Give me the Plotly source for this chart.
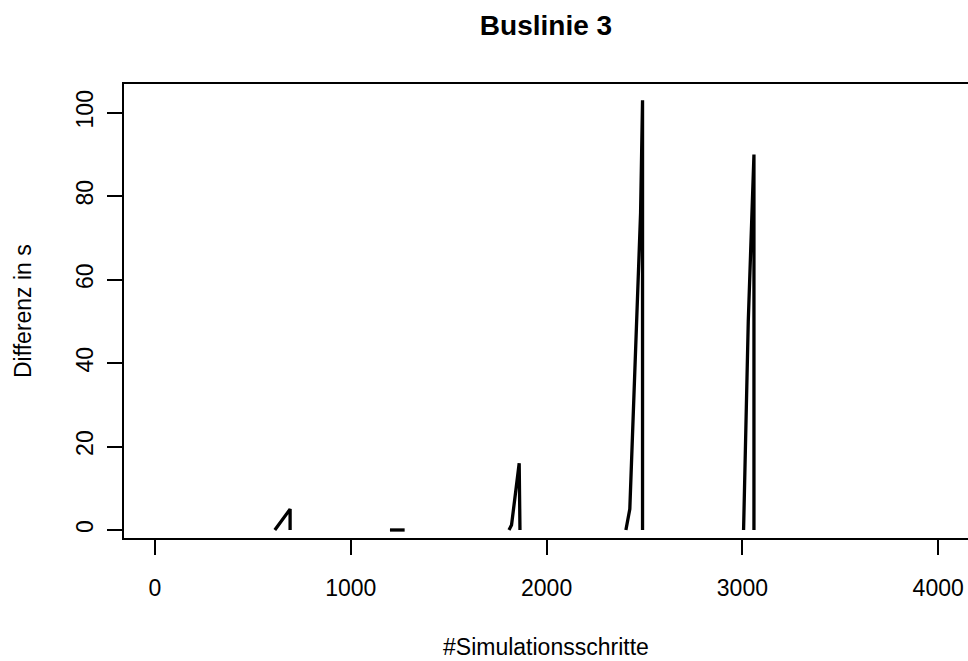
import plotly.graph_objects as go

# Data (simulation step, difference in s); None separates spikes
steps = [612, 690, 690, None,
         1200, 1240, 1275, None,
         1808, 1821, 1860, 1864, None,
         2405, 2425, 2480, 2490, 2490, None,
         3006, 3030, 3059, 3059]
diff = [0, 5, 0, None,
        0, 0, 0, None,
        0, 1.2, 16, 0, None,
        0, 5, 76, 103, 0, None,
        0, 50, 90, 0]

x_ticks = [0, 1000, 2000, 3000, 4000]
y_ticks = [0, 20, 40, 60, 80, 100]

FONT = "Liberation Sans, Arial, sans-serif"

fig = go.Figure()
fig.add_trace(go.Scatter(x=steps, y=diff, mode="lines",
                         line=dict(color="black", width=3.3),
                         connectgaps=False, showlegend=False))

fig.update_layout(
    width=968, height=661,
    margin=dict(l=124, r=0, t=84, b=123),
    paper_bgcolor="white", plot_bgcolor="white",
    font=dict(family=FONT, size=23, color="black"),
    title=dict(text="<b>Buslinie 3</b>", x=546/968, xref="container", xanchor="center",
               y=1 - 25/661, yref="container", yanchor="middle",
               font=dict(family=FONT, size=28, color="black")),
    xaxis=dict(range=[-158.3, 4152.2], tickvals=x_ticks, ticks="outside", ticklen=15,
               tickwidth=1.5, tickcolor="black", showline=True, linecolor="black",
               linewidth=1.5, mirror=True, showgrid=False, zeroline=False,
               ticklabelstandoff=14),
    yaxis=dict(range=[-1.92, 106.88], tickvals=y_ticks, ticks="outside", ticklen=15,
               tickwidth=1.5, tickcolor="black", showline=True, linecolor="black",
               linewidth=1.5, mirror=False, showgrid=False, zeroline=False,
               tickangle=-90, ticklabelstandoff=5),
    annotations=[
        dict(text="#Simulationsschritte", x=0.5, y=(538 - 647) / 454, xref="paper", yref="paper",
             xanchor="center", yanchor="middle", showarrow=False, font=dict(size=23)),
        dict(text="Differenz in s", x=(23 - 124) / 844, y=0.5, xref="paper", yref="paper",
             xanchor="center", yanchor="middle", textangle=-90, showarrow=False, font=dict(size=23)),
    ],
)

fig.write_html("out.html", config={"displayModeBar": False})
